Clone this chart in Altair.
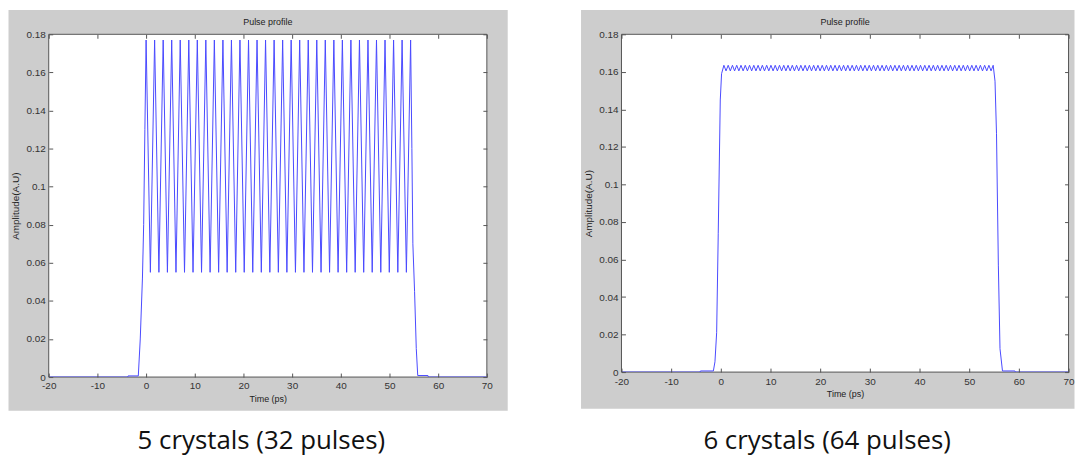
import altair as alt
import pandas as pd

# ---- left panel: 5 crystals, 32 pulses ----
left_peak_t = [0.00, 1.75, 3.51, 5.26, 7.01, 8.77, 10.52, 12.27, 14.02, 15.78,
               17.53, 19.28, 21.04, 22.79, 24.54, 26.30, 28.05, 29.80, 31.55, 33.31,
               35.06, 36.81, 38.57, 40.32, 42.07, 43.83, 45.58, 47.33, 49.08, 50.84,
               52.59, 54.34]
left_trough_t = [0.88, 2.63, 4.38, 6.14, 7.89, 9.64, 11.39, 13.15, 14.90, 16.65,
                 18.41, 20.16, 21.91, 23.67, 25.42, 27.17, 28.92, 30.68, 32.43, 34.18,
                 35.94, 37.69, 39.44, 41.20, 42.95, 44.70, 46.45, 48.21, 49.96, 51.71,
                 53.47]
left_peak_amp = 0.177
left_trough_amp = 0.055
left_edge_t = [-20, -3.8, -3.7, -1.6, -1.2, -0.75, -0.5, -0.25,
               54.6, 54.8, 55.15, 55.5, 55.8, 57.9, 58.0, 70]
left_edge_amp = [0, 0, 0.0006, 0.0006, 0.02, 0.052, 0.08, 0.13,
                 0.12, 0.07, 0.045, 0.015, 0.0008, 0.0008, 0, 0]

# ---- right panel: 6 crystals, 64 pulses ----
right_peak_t = [0.62, 1.48, 2.34, 3.20, 4.06, 4.92, 5.78, 6.64, 7.50, 8.36,
                9.23, 10.09, 10.95, 11.81, 12.67, 13.53, 14.39, 15.25, 16.11, 16.97,
                17.83, 18.69, 19.55, 20.41, 21.27, 22.13, 22.99, 23.85, 24.71, 25.57,
                26.44, 27.30, 28.16, 29.02, 29.88, 30.74, 31.60, 32.46, 33.32, 34.18,
                35.04, 35.90, 36.76, 37.62, 38.48, 39.34, 40.20, 41.06, 41.92, 42.78,
                43.65, 44.51, 45.37, 46.23, 47.09, 47.95, 48.81, 49.67, 50.53, 51.39,
                52.25, 53.11, 53.97, 54.83]
right_trough_t = [1.05, 1.91, 2.77, 3.63, 4.49, 5.35, 6.21, 7.07, 7.93, 8.79,
                  9.66, 10.52, 11.38, 12.24, 13.10, 13.96, 14.82, 15.68, 16.54, 17.40,
                  18.26, 19.12, 19.98, 20.84, 21.70, 22.56, 23.42, 24.28, 25.14, 26.00,
                  26.87, 27.73, 28.59, 29.45, 30.31, 31.17, 32.03, 32.89, 33.75, 34.61,
                  35.47, 36.33, 37.19, 38.05, 38.91, 39.77, 40.63, 41.49, 42.35, 43.21,
                  44.08, 44.94, 45.80, 46.66, 47.52, 48.38, 49.24, 50.10, 50.96, 51.82,
                  52.68, 53.54, 54.40]
right_peak_amp = 0.1635
right_trough_amp = 0.1605
right_edge_t = [-20, -4.2, -4.1, -1.5, -1.18, -0.84, -0.52, -0.11, 0.15,
                55.2, 55.5, 55.87, 56.2, 56.7, 59.2, 59.3, 70]
right_edge_amp = [0, 0, 0.0006, 0.0006, 0.0055, 0.021, 0.074, 0.145, 0.159,
                  0.155, 0.127, 0.057, 0.0125, 0.0006, 0.0006, 0, 0]

x_ticks = [-20, -10, 0, 10, 20, 30, 40, 50, 60, 70]
y_ticks = [0, 0.02, 0.04, 0.06, 0.08, 0.1, 0.12, 0.14, 0.16, 0.18]

FRAME = "#cdcdcd"
EDGE = "#555555"
BLUE = "#4a4aff"
FONT = "Liberation Sans"


def build_df(peaks, troughs, pk, tr, edge_t, edge_a):
    t = list(edge_t) + list(peaks) + list(troughs)
    a = list(edge_a) + [pk] * len(peaks) + [tr] * len(troughs)
    return pd.DataFrame({"t": t, "amp": a}).sort_values("t")


def inner_axis(orient):
    return alt.Axis(orient=orient, values=x_ticks if orient in ("bottom", "top") else y_ticks,
                    labels=False, domain=False, grid=False, ticks=True, tickSize=4,
                    tickColor=EDGE, tickWidth=1, offset=-4, title=None, zindex=1)


def panel(df, W, H, L, R, T, B, cap_x, cap_dy, caption):
    one = pd.DataFrame({"k": [0]})
    xs = alt.Scale(domain=[-20, 70], nice=False, zero=False)
    ys = alt.Scale(domain=[0, 0.18], nice=False)

    frame = alt.Chart(one).mark_rect(color=FRAME).encode(
        x=alt.value(-L), x2=alt.value(W + R), y=alt.value(-T), y2=alt.value(H + B))
    box = alt.Chart(one).mark_rect(fill="white", stroke=EDGE, strokeWidth=1).encode(
        x=alt.value(0), x2=alt.value(W), y=alt.value(0), y2=alt.value(H))

    line = alt.Chart(df).mark_line(color=BLUE, strokeWidth=1, clip=True).encode(
        x=alt.X("t:Q", scale=xs, axis=alt.Axis(
            values=x_ticks, labelExpr="'' + datum.value", title="Time (ps)",
            ticks=False, tickSize=0, domain=False, grid=False, labelFlush=False,
            labelPadding=4, labelFont=FONT, labelFontSize=10, labelColor="#333333",
            titleFont=FONT, titleFontSize=9, titleFontWeight="normal",
            titleColor="#222222", titlePadding=3.5, zindex=1)),
        y=alt.Y("amp:Q", scale=ys, axis=alt.Axis(
            values=y_ticks, labelExpr="'' + datum.value", title="Amplitude(A.U)",
            ticks=False, tickSize=0, domain=False, grid=False, labelFlush=False,
            labelPadding=3.5, labelFont=FONT, labelFontSize=10, labelColor="#333333",
            titleFont=FONT, titleFontSize=10, titleFontWeight="normal",
            titleColor="#222222", titlePadding=5, zindex=1)),
    )

    ticks_bl = alt.Chart(df).mark_line(opacity=0).encode(
        x=alt.X("t:Q", scale=xs, axis=inner_axis("bottom")),
        y=alt.Y("amp:Q", scale=ys, axis=inner_axis("left")))
    ticks_tr = alt.Chart(df).mark_line(opacity=0).encode(
        x=alt.X("t:Q", scale=xs, axis=inner_axis("top")),
        y=alt.Y("amp:Q", scale=ys, axis=inner_axis("right")))

    title = alt.Chart(one).mark_text(text="Pulse profile", font=FONT, fontSize=9,
                                     color="#222222", baseline="middle").encode(
        x=alt.value(W / 2), y=alt.value(-12.5))
    cap = alt.Chart(one).mark_text(text=caption, font="Open Sans", fontSize=26,
                                   color="#111111", baseline="alphabetic").encode(
        x=alt.value(cap_x), y=alt.value(H + cap_dy))

    return alt.layer(frame, box, line, ticks_bl, ticks_tr, title, cap).resolve_axis(
        x="independent", y="independent").properties(width=W, height=H)


left_df = build_df(left_peak_t, left_trough_t, left_peak_amp, left_trough_amp,
                   left_edge_t, left_edge_amp)
right_df = build_df(right_peak_t, right_trough_t, right_peak_amp, right_trough_amp,
                    right_edge_t, right_edge_amp)

left = panel(left_df, 441, 345, 40.5, 21, 24.5, 34, 214, 72, "5 crystals (32 pulses)")
right = panel(right_df, 450, 340, 40.7, 6, 24.5, 37, 207, 77, "6 crystals (64 pulses)")

chart = alt.hconcat(left, right, spacing=73.5).properties(
    padding={"left": 0, "top": 0, "right": 0, "bottom": 3}).configure_view(strokeWidth=0)

chart.save("out.html", embed_options={"renderer": "svg", "actions": False})
